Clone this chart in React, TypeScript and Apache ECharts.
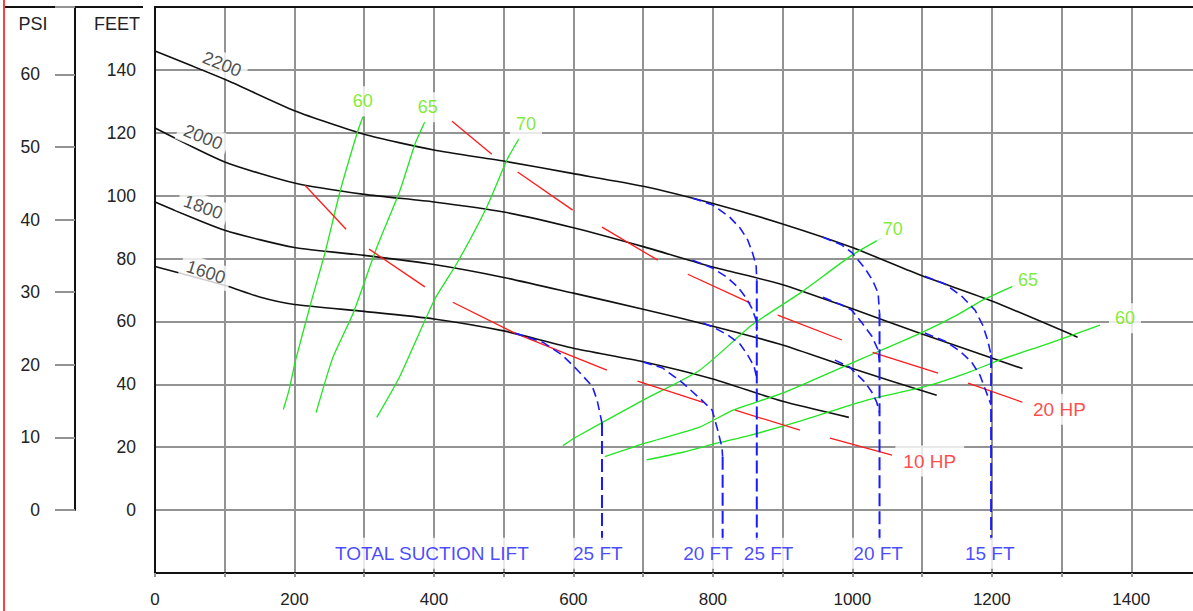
import React, { useEffect, useRef } from "react";
import * as echarts from "echarts";

// ---------- axes ----------
const flowMin = 0;
const flowMax = 1500;
const flowStep = 100;
const feetMin = -20;
const feetMax = 160;
const feetStep = 20;
const FT_PER_PSI = 2.31;
const psiStep = 10;

// ---------- pump head curves (gpm, feet) ----------
const head2200 = [[0, 146], [100, 137], [200, 127], [300, 119.5], [400, 114.5], [500, 111], [600, 107], [700, 103], [800, 97.5], [900, 91], [1000, 83.5], [1100, 74.5], [1200, 66.5], [1323, 55]];
const head2000 = [[0, 121.5], [100, 110.7], [200, 104], [300, 100.4], [400, 98], [500, 94.8], [600, 89.8], [700, 83.8], [800, 77.3], [900, 71.7], [1000, 64], [1100, 56], [1244, 45]];
const head1800 = [[0, 98], [100, 89], [200, 83.5], [300, 81], [400, 78.1], [500, 74], [600, 69], [700, 63.9], [800, 58.5], [900, 52.5], [1000, 45], [1121, 36.5]];
const head1600 = [[0, 77.5], [100, 71.5], [150, 67.8], [200, 65.4], [300, 63.2], [400, 60.8], [500, 57], [600, 51.5], [700, 47.2], [800, 41.7], [900, 34.6], [995, 29.5]];

// ---------- efficiency curves (%) ----------
const eff60Left = [[184, 32], [192, 38], [202, 48], [225, 67], [244, 82], [265, 101], [290, 120], [298, 125]];
const eff65Left = [[231, 31], [255, 48.5], [284, 62.5], [318, 83.5], [351, 101.5], [373, 116.5], [387, 123.5]];
const eff70Left = [[318, 29.5], [351, 42.5], [401, 67], [433, 78.5], [476, 96.5], [505, 111.5], [523, 118.5]];
const eff70Right = [[585, 20.5], [602, 23], [700, 35], [781, 44.5], [857, 59], [925, 69], [999, 81], [1042, 86.5]];
const eff65Right = [[645, 17], [703, 21.3], [781, 26.4], [829, 31.8], [900, 37.2], [986, 45.5], [1035, 50.2], [1101, 56.6], [1150, 62], [1187, 66.8], [1233, 71.5]];
const eff60Right = [[705, 16], [757, 18.4], [806, 21.3], [853, 23.8], [925, 28.3], [1021, 35], [1101, 39.1], [1164, 43.6], [1211, 47.7], [1283, 53.1], [1355, 58.8]];

// ---------- horsepower lines (drawn as long dashes) ----------
const hp10Segments = [
  [[215, 103.3], [274, 89.3]],
  [[307, 83], [387, 71]],
  [[427, 66.1], [516, 56.3], [648, 44.5]],
  [[692, 41], [786, 34.3]],
  [[832, 31.8], [925, 25.4]],
  [[968, 22.9], [1057, 17.5]],
];
const hp20Segments = [
  [[426, 123.7], [483, 113.2]],
  [[520, 107.5], [599, 95.4]],
  [[641, 90], [721, 79.5]],
  [[764, 75], [854, 65.8]],
  [[893, 62], [985, 54.1]],
  [[1029, 50.2], [1123, 43.6]],
  [[1166, 40.4], [1244, 34.3]],
];

// ---------- total suction lift limits ----------
const liftBottom = -9.5;
const lift25FtA = [[516, 56.3], [556, 53.4], [584, 49.3], [606, 44.5], [627, 39.4], [634, 35], [638, 30.8], [641, 27.7]];
const lift20FtA = [[700, 47.1], [728, 45.2], [757, 40.4], [784, 35], [799, 31.8], [807, 25.4], [813, 20], [814, 17]];
const lift25FtB2200 = [[771, 99.2], [800, 97], [824, 93.2], [839, 89.7], [850, 85.9], [857, 81.7], [862, 77.9], [863, 73]];
const lift25FtB2000 = [[771, 79.5], [800, 76.9], [820, 74.1], [836, 70.9], [847, 67.7], [856, 64.2], [862, 60.4], [863, 57]];
const lift25FtB1800 = [[786, 59.5], [803, 57.9], [822, 55.6], [839, 52.8], [850, 49.3], [859, 45.8], [863, 42]];
const lift20FtB2200 = [[958, 86.8], [985, 84.3], [999, 82], [1018, 76.9], [1029, 73.1], [1037, 69], [1039, 62.6]];
const lift20FtB2000 = [[958, 67.7], [985, 65.2], [999, 63.6], [1014, 59.5], [1028, 55.3], [1037, 50.9], [1039, 47]];
const lift20FtB1800 = [[975, 47.7], [996, 45.5], [1018, 40.7], [1028, 37.5], [1035, 34.3], [1039, 31]];
const lift15Ft2200 = [[1104, 74.4], [1133, 71.9], [1157, 68], [1176, 63.6], [1187, 58.8], [1194, 54.1], [1199, 49.3]];
const lift15Ft2000 = [[1104, 56.3], [1133, 53.7], [1154, 50.6], [1171, 47.1], [1183, 42.9], [1191, 38.2], [1199, 33.4]];

// ---------- labels ----------
const speedLabels = [
  { text: "2200", at: [96, 141.8], rotate: -22 },
  { text: "2000", at: [69, 118.6], rotate: -22 },
  { text: "1800", at: [69, 96.3], rotate: -20 },
  { text: "1600", at: [73, 75.7], rotate: -18 },
];
const effLabels = [
  { text: "60", at: [298, 130] },
  { text: "65", at: [391, 128.1] },
  { text: "70", at: [532, 122.7] },
  { text: "70", at: [1058, 89.3] },
  { text: "65", at: [1252, 73.1] },
  { text: "60", at: [1391, 61] },
];
const hpLabels = [
  { text: "10 HP", at: [1111, 15.6] },
  { text: "20 HP", at: [1297, 32.1] },
];
const liftLabelY = -13.7;
const liftLabels = [
  { text: "TOTAL SUCTION LIFT", x: 397 },
  { text: "25 FT", x: 635 },
  { text: "20 FT", x: 793 },
  { text: "25 FT", x: 880 },
  { text: "20 FT", x: 1037 },
  { text: "15 FT", x: 1197 },
];

const FONT = "'Liberation Sans', Arial, sans-serif";
const GRID_GRAY = "#939393";
const BLACK = "#111";
const GREEN = "#1fe61f";
const GREEN_TXT = "#5fe600";
const RED = "#ff1a1a";
const BLUE = "#1a1aff";

function lineSeries(data: number[][], color: string, width: number) {
  return {
    type: "line",
    xAxisIndex: 0,
    yAxisIndex: 0,
    data,
    symbol: "none",
    smooth: 0.2,
    lineStyle: { color, width },
    silent: true,
    z: 3,
  };
}

function liftItems() {
  const curve = { color: BLUE, width: 1.6, type: [9, 5] };
  const vert = { color: BLUE, width: 2, type: [13, 5] };
  const items: any[] = [];
  const addCurve = (c: number[][]) => items.push({ coords: c, lineStyle: curve });
  const addVert = (c: number[][]) => {
    const last = c[c.length - 1];
    items.push({ coords: [last, [last[0], liftBottom]], lineStyle: vert });
  };
  addCurve(lift25FtA); addVert(lift25FtA);
  addCurve(lift20FtA); addVert(lift20FtA);
  addCurve(lift25FtB2200); addVert(lift25FtB2200);
  addCurve(lift25FtB2000); addCurve(lift25FtB1800);
  addCurve(lift20FtB2200); addVert(lift20FtB2200);
  addCurve(lift20FtB2000); addCurve(lift20FtB1800);
  addCurve(lift15Ft2200); addVert(lift15Ft2200);
  addCurve(lift15Ft2000);
  return items;
}

function labelSeries(items: any[], color: string, fontSize: number, padding: number[], z: number) {
  return {
    type: "scatter",
    xAxisIndex: 0,
    yAxisIndex: 0,
    symbolSize: 1,
    itemStyle: { color: "rgba(0,0,0,0)" },
    silent: true,
    z,
    data: items.map((l) => ({
      value: l.at,
      label: { formatter: l.text, rotate: l.rotate || 0 },
    })),
    label: {
      show: true,
      position: "inside",
      color,
      fontSize,
      fontFamily: FONT,
      backgroundColor: "#fff",
      padding,
    },
  };
}

export default function App() {
  const ref = useRef<HTMLDivElement>(null);
  useEffect(() => {
    document.body.style.margin = "0";
    const chart = echarts.init(ref.current!, null, { renderer: "svg" });
    const option: any = {
      animation: false,
      backgroundColor: "#fff",
      textStyle: { fontFamily: FONT },
      grid: [
        { left: 155, top: 7, width: 1046, bottom: 38, outerBoundsMode: "none", containLabel: false },
        { left: 75, top: 7, width: 1, bottom: 101, outerBoundsMode: "none", containLabel: false },
      ],
      xAxis: [
        {
          type: "value",
          gridIndex: 0,
          min: flowMin,
          max: flowMax,
          interval: flowStep,
          position: "bottom",
          axisLine: { show: true, onZero: false, lineStyle: { color: BLACK, width: 2 } },
          axisTick: { show: true, length: 4, lineStyle: { color: GRID_GRAY, width: 2 } },
          axisLabel: {
            color: "#222",
            fontSize: 17,
            fontFamily: FONT,
            margin: 18,
            formatter: (v: number) => (v % 200 === 0 && v <= 1400 ? String(v) : ""),
          },
          splitLine: { show: true, lineStyle: { color: GRID_GRAY, width: 2 } },
        },
        {
          type: "value",
          gridIndex: 0,
          min: flowMin,
          max: flowMax,
          position: "top",
          axisLine: { show: true, onZero: false, lineStyle: { color: BLACK, width: 2 } },
          axisTick: { show: false },
          axisLabel: { show: false },
          splitLine: { show: false },
        },
        { type: "value", gridIndex: 1, show: false, min: 0, max: 1 },
      ],
      yAxis: [
        {
          type: "value",
          gridIndex: 0,
          min: feetMin,
          max: feetMax,
          interval: feetStep,
          axisLine: { show: true, onZero: false, lineStyle: { color: BLACK, width: 2 } },
          axisTick: { show: false },
          axisLabel: {
            color: "#222",
            fontSize: 17.5,
            fontFamily: FONT,
            margin: 19,
            formatter: (v: number) => (v >= 0 && v <= 140 ? String(v) : ""),
          },
          splitLine: { show: true, lineStyle: { color: GRID_GRAY, width: 2 } },
        },
        {
          type: "value",
          gridIndex: 1,
          min: 0,
          max: feetMax / FT_PER_PSI,
          interval: psiStep,
          axisLine: { show: true, onZero: false, lineStyle: { color: BLACK, width: 2 } },
          axisTick: { show: true, length: 20, lineStyle: { color: GRID_GRAY, width: 2 } },
          axisLabel: {
            color: "#222",
            fontSize: 17.5,
            fontFamily: FONT,
            margin: 35,
            formatter: (v: number) => (Math.abs(v % psiStep) < 1e-6 && v <= 60 ? String(v) : ""),
          },
          splitLine: { show: false },
        },
      ],
      graphic: [
        { type: "line", shape: { x1: 4, y1: 0, x2: 4, y2: 611 }, style: { stroke: "#ff0000", lineWidth: 1.5 } },
        { type: "line", shape: { x1: 5, y1: 7, x2: 143, y2: 7 }, style: { stroke: BLACK, lineWidth: 2 } },
        { type: "text", x: 33, y: 24, style: { text: "PSI", fill: "#222", fontSize: 18, fontFamily: FONT, align: "center", verticalAlign: "middle" } },
        { type: "text", x: 117, y: 24, style: { text: "FEET", fill: "#222", fontSize: 18, fontFamily: FONT, align: "center", verticalAlign: "middle" } },
      ],
      series: [
        lineSeries(head2200, BLACK, 1.6),
        lineSeries(head2000, BLACK, 1.6),
        lineSeries(head1800, BLACK, 1.6),
        lineSeries(head1600, BLACK, 1.6),
        lineSeries(eff60Left, GREEN, 1.3),
        lineSeries(eff65Left, GREEN, 1.3),
        lineSeries(eff70Left, GREEN, 1.3),
        lineSeries(eff70Right, GREEN, 1.3),
        lineSeries(eff65Right, GREEN, 1.3),
        lineSeries(eff60Right, GREEN, 1.3),
        {
          type: "lines",
          coordinateSystem: "cartesian2d",
          xAxisIndex: 0,
          yAxisIndex: 0,
          polyline: true,
          silent: true,
          z: 4,
          lineStyle: { color: RED, width: 1.3, opacity: 1 },
          data: [...hp10Segments, ...hp20Segments].map((s) => ({ coords: s })),
        },
        {
          type: "lines",
          coordinateSystem: "cartesian2d",
          xAxisIndex: 0,
          yAxisIndex: 0,
          polyline: true,
          silent: true,
          z: 5,
          lineStyle: { color: BLUE, width: 1.6, opacity: 1 },
          data: liftItems(),
        },
        labelSeries(speedLabels, "#222", 18, [3, 6], 6),
        labelSeries(effLabels, GREEN_TXT, 18, [6, 6], 6),
        labelSeries(hpLabels, RED, 19, [6, 8], 6),
        labelSeries(
          liftLabels.map((l) => ({ text: l.text, at: [l.x, liftLabelY] })),
          BLUE,
          19,
          [6, 3],
          6
        ),
      ],
    };
    chart.setOption(option);
    return () => chart.dispose();
  }, []);
  return <div ref={ref} style={{ width: 1193, height: 611 }} />;
}
